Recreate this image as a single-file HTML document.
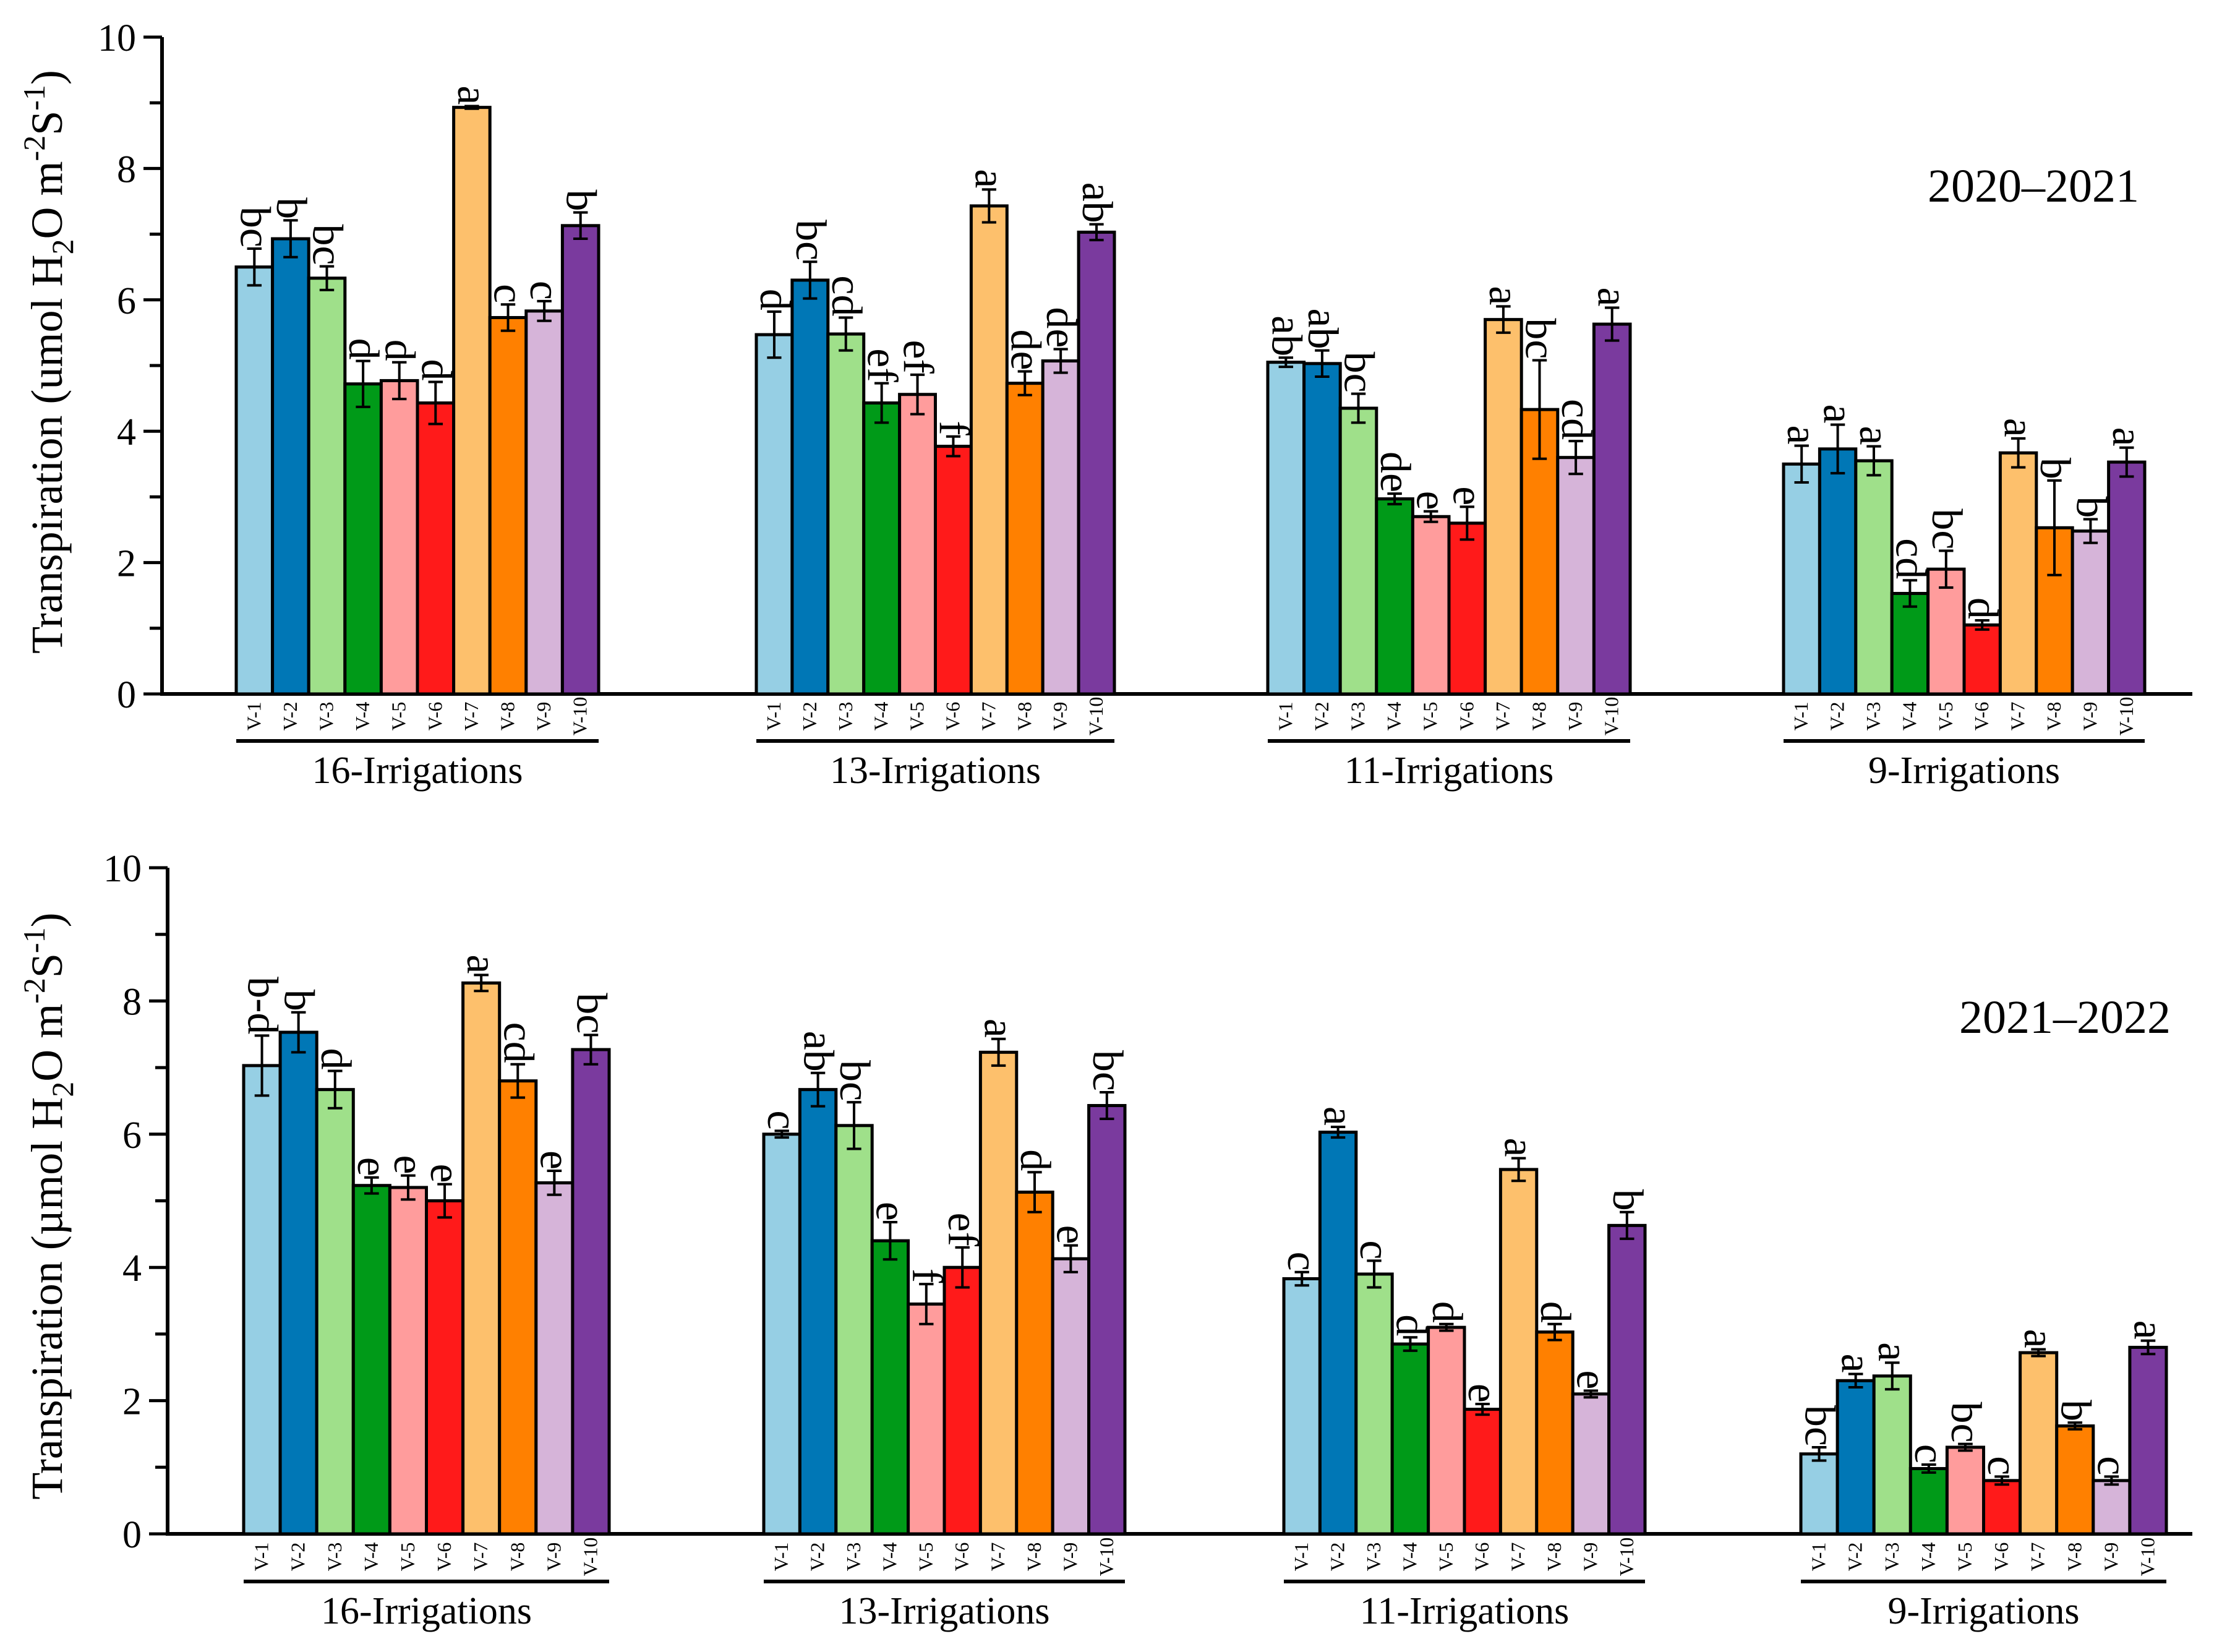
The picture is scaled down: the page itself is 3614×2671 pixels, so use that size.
<!DOCTYPE html>
<html><head><meta charset="utf-8"><style>
html,body{margin:0;padding:0;background:#fff}
svg{display:block}
text{font-family:"Liberation Serif","DejaVu Serif",serif}
</style></head><body>
<svg id="chart" width="3614" height="2671" viewBox="0 0 3614 2671" xmlns="http://www.w3.org/2000/svg" font-family="Liberation Serif, DejaVu Serif, serif"></svg>
<script>
const varieties = ["V-1","V-2","V-3","V-4","V-5","V-6","V-7","V-8","V-9","V-10"];
const groupNames = ["16-Irrigations","13-Irrigations","11-Irrigations","9-Irrigations"];
const colors = ["#96cfe4","#0077b6","#9fe08a","#009a18","#ff9c9c","#ff1a1a","#fdc06c","#ff8000","#d6b4d9","#7a3a9e"];
const yTicks = [0,2,4,6,8,10];

const vals2021 = [
 [6.5,6.93,6.33,4.72,4.77,4.43,8.93,5.73,5.83,7.13],
 [5.47,6.3,5.48,4.43,4.56,3.77,7.43,4.73,5.07,7.03],
 [5.05,5.03,4.35,2.97,2.7,2.6,5.7,4.33,3.6,5.63],
 [3.5,3.73,3.55,1.53,1.9,1.05,3.67,2.53,2.48,3.53]];
const errs2021 = [
 [0.28,0.28,0.18,0.35,0.28,0.32,0.02,0.2,0.15,0.2],
 [0.35,0.28,0.25,0.3,0.3,0.15,0.25,0.18,0.18,0.12],
 [0.07,0.2,0.22,0.08,0.08,0.25,0.2,0.75,0.25,0.25],
 [0.28,0.37,0.22,0.2,0.28,0.07,0.22,0.72,0.18,0.22]];
const letters2021 = [
 ["bc","b","bc","d","d","d","a","c","c","b"],
 ["d","bc","cd","ef","ef","f","a","de","de","ab"],
 ["ab","ab","bc","de","e","e","a","bc","cd","a"],
 ["a","a","a","cd","bc","d","a","b","b","a"]];

const vals2022 = [
 [7.03,7.53,6.67,5.23,5.2,5.0,8.27,6.8,5.27,7.27],
 [6.0,6.67,6.13,4.4,3.45,4.0,7.23,5.13,4.13,6.43],
 [3.83,6.03,3.9,2.85,3.1,1.87,5.47,3.03,2.1,4.63],
 [1.2,2.3,2.37,0.98,1.3,0.8,2.72,1.62,0.8,2.8]];
const errs2022 = [
 [0.45,0.3,0.28,0.12,0.18,0.25,0.12,0.25,0.18,0.22],
 [0.05,0.25,0.35,0.28,0.3,0.3,0.2,0.3,0.2,0.2],
 [0.1,0.08,0.2,0.1,0.05,0.08,0.17,0.12,0.05,0.2],
 [0.1,0.1,0.2,0.06,0.05,0.06,0.05,0.05,0.06,0.1]];
const letters2022 = [
 ["b-d","b","d","e","e","e","a","cd","e","bc"],
 ["c","ab","bc","e","f","ef","a","d","e","bc"],
 ["c","a","c","d","d","e","a","d","e","b"],
 ["bc","a","a","c","bc","c","a","b","c","a"]];

const NS="http://www.w3.org/2000/svg";
const FF='"Liberation Serif","DejaVu Serif",serif';
const svg=document.getElementById('chart');
function mk(tag,attrs,parent,text){const e=document.createElementNS(NS,tag);for(const k in attrs)e.setAttribute(k,attrs[k]);if(tag==='text')e.style.fontFamily=FF;if(text!==undefined)e.textContent=text;(parent||svg).appendChild(e);return e;}

function panel(cfg){
  const g=mk('g',{});
  
  
  const y=v=>cfg.y0-(cfg.y0-cfg.y10)*v/10;
  const ax=mk('line',{x1:cfg.ax,y1:cfg.y10,x2:cfg.ax,y2:cfg.y0+3,stroke:'#000','stroke-width':6},g);
  
  
  const xa=mk('line',{x1:cfg.ax-3,y1:cfg.y0,x2:cfg.axEnd,y2:cfg.y0,stroke:'#000','stroke-width':6},g);
  
  
  for(let v=0;v<=10;v++){
    const major=v%2===0;
    mk('line',{x1:cfg.ax-(major?30:20),y1:y(v),x2:cfg.ax,y2:y(v),stroke:'#000','stroke-width':5},g);
  }
  yTicks.forEach(t=>{
    const tl=mk('text',{x:cfg.ax-42,y:y(t)+22,'text-anchor':'end','font-size':62},g,String(t));
    
    
  });
  const tt=mk('text',{transform:`translate(${cfg.titleX},${cfg.titleY}) rotate(-90)`,'text-anchor':'middle','font-size':72},g);
  
  
  mk('tspan',{},tt,'Transpiration ('+cfg.unit+' H');
  mk('tspan',{'font-size':50,dy:18},tt,'2');
  mk('tspan',{dy:-18},tt,'O m');
  mk('tspan',{'font-size':50,dy:-28},tt,'-2');
  mk('tspan',{dy:28},tt,'S');
  mk('tspan',{'font-size':50,dy:-28},tt,'-1');
  mk('tspan',{dy:28},tt,')');
  const yr=mk('text',{x:cfg.yearX,y:cfg.yearY,'text-anchor':'end','font-size':76},g,cfg.year);
  
  
  cfg.groups.forEach((gx,gi)=>{
    const bw=(gx[1]-gx[0])/varieties.length;
    varieties.forEach((vn,i)=>{
      const v=cfg.vals[gi][i], e=cfg.errs[gi][i];
      const x0=gx[0]+i*bw, cx=x0+bw/2;
      const r=mk('rect',{x:x0,y:y(v),width:bw,height:y(0)-y(v),fill:colors[i],stroke:'#000','stroke-width':5},g);
      
      
      const cw=bw*0.4;
      const eb=mk('path',{d:`M${cx},${y(v+e)}V${y(v-e)}M${cx-cw/2},${y(v+e)}H${cx+cw/2}M${cx-cw/2},${y(v-e)}H${cx+cw/2}`,stroke:'#000','stroke-width':4,fill:'none'},g);
      
      
      const lt=mk('text',{transform:`translate(${cx-22},${y(v+e)-2}) rotate(90)`,'text-anchor':'end','font-size':70},g,cfg.letters[gi][i]);
      
      
      const vl=mk('text',{transform:`translate(${cx+10},${cfg.vLabY}) rotate(-90)`,'text-anchor':'middle','font-size':32},g,vn);
      
      
    });
    const ul=mk('line',{x1:gx[0],y1:cfg.ulY,x2:gx[1],y2:cfg.ulY,stroke:'#000','stroke-width':6},g);
    
    
    const gl=mk('text',{x:(gx[0]+gx[1])/2,y:cfg.ulY+68,'text-anchor':'middle','font-size':62},g,groupNames[gi]);
    
    
  });
}

panel({name:'panel-2020-2021',ax:262,axEnd:3545,y0:1122,y10:60,titleX:100,titleY:585,unit:'umol',
  year:'2020–2021',yearX:3459,yearY:326,vLabY:1158,ulY:1198,
  groups:[[382,968],[1223,1802],[2050,2636],[2884,3468]],
  vals:vals2021,errs:errs2021,letters:letters2021});
panel({name:'panel-2021-2022',ax:271,axEnd:3545,y0:2480,y10:1403,titleX:100,titleY:1950,unit:'µmol',
  year:'2021–2022',yearX:3510,yearY:1670,vLabY:2517,ulY:2557,
  groups:[[394,985],[1235,1819],[2076,2660],[2912,3503]],
  vals:vals2022,errs:errs2022,letters:letters2022});
</script>
</body></html>
